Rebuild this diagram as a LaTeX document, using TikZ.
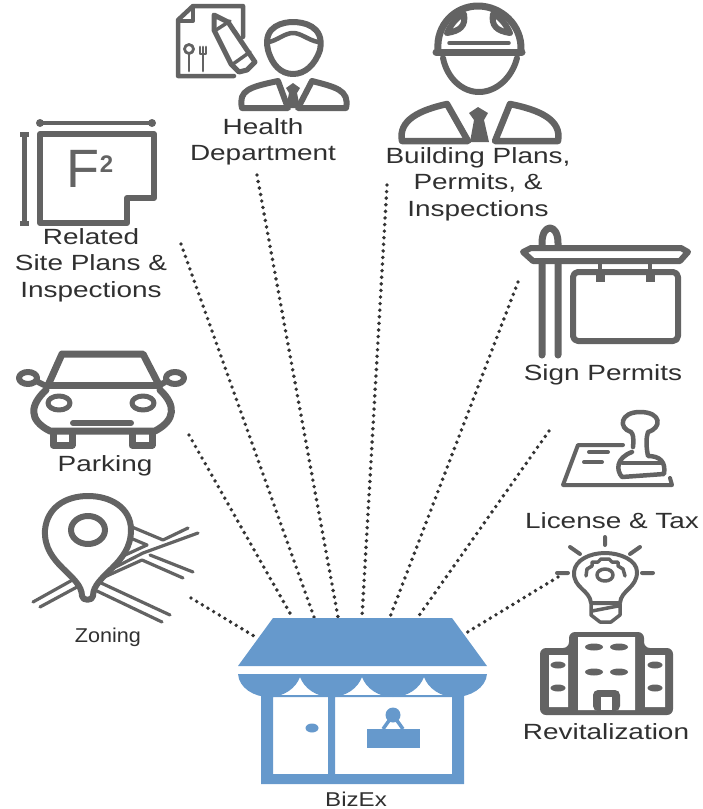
\documentclass[tikz,border=0pt]{standalone}
\usepackage{fontspec}
\setmainfont{Liberation Sans}
\definecolor{icongray}{HTML}{636363}
\definecolor{labelgray}{HTML}{303030}
\definecolor{shopblue}{HTML}{6699CC}
\tikzset{
  icon/.style = {draw=icongray, line width=6, line join=round, line cap=round},
  thinicon/.style = {icon, line width=3.2},
  label/.style = {text=labelgray, align=center, inner sep=0, transform shape, xscale=1.27,
    font=\fontsize{22}{26.5}\selectfont},
}
\begin{document}
\begin{tikzpicture}[x=1pt, y=-1pt]
\useasboundingbox (0,0) rectangle (703,809);
% dotted lines
\coordinate (zoningA) at (191,598);  \coordinate (zoningB) at (254,636);
\coordinate (parkingA) at (189,435); \coordinate (parkingB) at (291,615);
\coordinate (siteA) at (181,244);    \coordinate (siteB) at (314,617);
\coordinate (healthA) at (257,175);  \coordinate (healthB) at (338,617);
\coordinate (buildA) at (387,185);   \coordinate (buildB) at (362,617);
\coordinate (signA) at (518,282);    \coordinate (signB) at (390,617);
\coordinate (licenseA) at (549,431); \coordinate (licenseB) at (418,617);
\coordinate (revitA) at (558,577);   \coordinate (revitB) at (466,633);
\begin{scope}[every edge/.style = {draw, line width=3.9, line cap=round, dash pattern=on 0pt off 6.6pt, black!80}]
\path (zoningA) edge (zoningB);
\path (parkingA) edge (parkingB);
\path (siteA) edge (siteB);
\path (healthA) edge (healthB);
\path (buildA) edge (buildB);
\path (signA) edge (signB);
\path (licenseA) edge (licenseB);
\path (revitA) edge (revitB);
\end{scope}
% health
\draw[icon, line width=4.5] (243,37) -- (243,6) -- (193,6) -- (178,20) -- (178,76) -- (234,76);
\draw[icon, line width=4] (193,6) -- (193,21) -- (178,21);
\draw[icon, line width=2.8] (189,49) circle (4.5);
\draw[icon, line width=2.8] (189,54) -- (189,71);
\draw[icon, line width=2.8] (200,47) -- (200,54) -- (206,54) -- (206,47) (203,47) -- (203,71);
\draw[icon, line width=5] (214,15) -- (228,22) -- (255,62) -- (247,70) -- (239,72) -- (231,64) -- (214,30) -- cycle;
\draw[icon, line width=3.5] (216,30) -- (230,21) (233,64) -- (250,52);
\draw[icon] (268,50) .. controls (262,25) and (285,22) .. (293,22) .. controls (302,22) and (325,25) .. (320,50)
  .. controls (315,65) and (305,74) .. (293,74) .. controls (281,74) and (272,65) .. (268,50);
\draw[icon, line width=4.5] (269,42) .. controls (278,40) and (285,33) .. (293,33) .. controls (301,33) and (308,40) .. (318,42);
\draw[icon] (242,108) .. controls (238,90) and (250,87) .. (278,81) -- (288,108) -- cycle;
\draw[icon] (298,108) -- (312,81) .. controls (335,87) and (350,90) .. (346,108) -- cycle;
\fill[icongray] (293,83) -- (300,88) -- (297,93) -- (300,108) -- (286,108) -- (289,93) -- (286,88) -- cycle;
% building
\draw[icon, line width=7] (438,50) .. controls (436,25) and (455,6) .. (478,6) .. controls (501,6) and (522,25) .. (521,50);
\draw[icon] (447,33) .. controls (451,24) and (458,16) .. (464,14) .. controls (466,26) and (460,31) .. (447,33);
\draw[icon] (510,33) .. controls (506,24) and (499,16) .. (493,14) .. controls (491,26) and (497,31) .. (510,33);
\draw[icon, line width=7] (436,52) -- (522,52);
\draw[icon, line width=3.5] (449,43) -- (509,43);
\draw[icon] (443,58) .. controls (447,78) and (462,92) .. (479,92) .. controls (496,92) and (512,78) .. (517,58);
\draw[icon, line width=6.5] (402,141) .. controls (398,120) and (420,110) .. (447,104) -- (468,141) -- cycle;
\draw[icon, line width=6.5] (495,141) -- (510,104) .. controls (540,110) and (562,120) .. (558,141) -- cycle;
\fill[icongray] (478,107) -- (488,113) -- (484,120) -- (489,142) -- (470,142) -- (474,120) -- (469,113) -- cycle;
% site
\draw[icon] (154,198) -- (154,134) -- (40,134) -- (40,223) -- (127,223) -- (127,198) -- cycle;
\draw[icon, line width=4] (40,123) -- (152,123);
\fill[icongray] (40,123) circle (4) (152,123) circle (4);
\draw[icon, line width=5, line cap=butt] (24,134) -- (24,223) (20,134) -- (29,134) (20,223) -- (29,223);
\node[text=icongray, inner sep=0, font=\fontsize{54}{54}\selectfont] (fsquare) at (90,169) {F\raisebox{15pt}{\bfseries\fontsize{24}{24}\selectfont 2}};
% parking
\draw[icon, line width=7] (49,383) -- (62,354) -- (143,354) -- (158,383);
\draw[icon, line width=7] (46,385) -- (160,385);
\draw[icon, line width=7] (46,390) .. controls (30,405) and (28,420) .. (50,431) -- (155,431) .. controls (176,420) and (176,405) .. (160,390);
\draw[icon] (28,378) circle [x radius=9, y radius=6] (36,381) -- (44,385);
\draw[icon] (175,378) circle [x radius=9, y radius=6] (167,381) -- (160,385);
\draw[icon, line width=5] (59,403) circle [x radius=11, y radius=7];
\draw[icon, line width=5] (143,403) circle [x radius=11, y radius=7];
\draw[icon] (73,423) -- (131,423);
\draw[icon, line width=7] (53,432) -- (53,445) -- (72,445) -- (72,432);
\draw[icon, line width=7] (132,432) -- (132,445) -- (152,445) -- (152,432);
% zoning
\draw[thinicon] (33,602) -- (76,578) (40,607) -- (77,587);
\draw[thinicon] (99,582) -- (170,615) (97,591) -- (162,622);
\draw[thinicon] (100,575) -- (143,553) -- (198,533);
\draw[thinicon] (100,579) -- (142,560) -- (183,578);
\draw[thinicon] (132,527) -- (163,540) -- (188,528);
\draw[thinicon] (128,537) -- (147,545) -- (110,562);
\draw[thinicon] (150,555) -- (193,572);
\draw[icon, fill=white] (82,596) .. controls (82,575) and (43,565) .. (45,530) .. controls (47,508) and (65,496) .. (88,496)
  .. controls (111,496) and (131,508) .. (131,530) .. controls (131,565) and (93,575) .. (93,596)
  .. controls (93,601) and (82,601) .. (82,596);
\draw[icon] (88,530) circle [x radius=17, y radius=14];
% sign
\draw[icon, line width=7] (542,355) -- (542,243) .. controls (542,223) and (558,223) .. (558,243) -- (558,355);
\draw[icon, fill=white] (523,252) -- (531,248) -- (681,248) -- (688,252) -- (680,261) -- (533,261) -- cycle;
\draw[icon, rounded corners=5] (573,272) rectangle (678,341);
\draw[icon, line width=4.5, line cap=butt] (600,263) -- (600,280) (650,263) -- (650,280);
\draw[icon, line width=9, line cap=butt] (600,274) -- (600,282) (650,274) -- (650,282);
% license
\draw[icon, line width=4] (623,445) -- (578,445) -- (563,485) -- (672,485) -- (670,478);
\draw[icon, line width=4] (589,452) -- (608,452) (584,462) -- (602,462);
\draw[icon, line width=4.5] (633,447) .. controls (634,438) and (633,434) .. (631,432) .. controls (618,428) and (620,412) .. (640,412)
  .. controls (662,412) and (662,428) .. (648,432) .. controls (646,438) and (646,446) .. (648,456)
  .. controls (660,456) and (666,462) .. (664,474) -- (622,477) .. controls (616,470) and (616,458) .. (632,452);
\draw[icon, line width=3.5] (622,463) -- (663,463);
% revit
\draw[icon, line width=4] (605,537) -- (605,545) (570,547) -- (580,554) (640,547) -- (630,554) (557,573) -- (568,573) (642,573) -- (653,573);
\draw[icon, line width=4] (591,603) .. controls (590,590) and (573,588) .. (574,572) .. controls (575,560) and (590,553) .. (605,553)
  .. controls (620,553) and (637,560) .. (637,572) .. controls (637,588) and (621,590) .. (620,603) -- cycle;
\draw[icon, line width=3.5] (591,604) -- (591,615) -- (600,622) -- (611,622) -- (620,615) -- (620,604) (592,611) -- (618,606);
\draw[icon, line width=3.5] (605,575) circle [x radius=8, y radius=6];
\draw[icon, line width=3.5] (586,576) -- (587,569) -- (592,566) -- (592,562) -- (598,562) -- (601,559) -- (609,559) -- (612,562) -- (618,562) -- (618,566) -- (623,569) -- (625,576);
\fill[icongray, rounded corners=6] (540,715) -- (540,648) -- (569,648) -- (569,632) -- (644,632) -- (644,648) -- (673,648) -- (673,715) -- cycle;
\fill[white] (578,637) rectangle (635,710) (549,655) rectangle (568,707) (645,655) rectangle (665,707);
\foreach \x/\y/\w in {594/647/9, 619/647/9, 594/672/9, 619/672/9, 558/665/7.5, 558/688/7.5, 655/665/7.5, 655/688/7.5}
  \fill[icongray] (\x,\y) circle [x radius=\w, y radius=3.5];
\fill[icongray, rounded corners=5] (593,711) -- (593,690) -- (620,690) -- (620,711) -- cycle;
\fill[white] (601,697) rectangle (612,710);
% shop
\fill[shopblue] (273,618) -- (452,618) -- (487,666) -- (238,666) -- cycle;
\fill[shopblue] (238,674) -- (487,674) .. controls (486,688) and (470,697) .. (455,697) .. controls (440,697) and (428,688) .. (424,677)
  .. controls (420,688) and (408,697) .. (393,697) .. controls (378,697) and (366,688) .. (362,677)
  .. controls (358,688) and (346,697) .. (331,697) .. controls (316,697) and (304,688) .. (300,677)
  .. controls (296,688) and (284,697) .. (269,697) .. controls (254,697) and (239,688) .. (238,674) -- cycle;
\fill[shopblue, even odd rule] (261,695) rectangle (464,784) (273,697) rectangle (328,774) (335,697) rectangle (452,774);
\fill[shopblue] (312,728) circle [x radius=6.5, y radius=4.5];
\fill[shopblue] (367,729) rectangle (420,748);
\fill[shopblue] (393,715) circle (7.5);
\draw[shopblue, line width=3.5] (383,729) -- (393,715) -- (403,729);
% labels
\node[label] (health) at (263,142) {Health\\Department};
\node[label] (build) at (478,184) {Building Plans,\\Permits, \&\\Inspections};
\node[label] (site) at (91,265) {Related\\Site Plans \&\\Inspections};
\node[label] (sign) at (603,375) {Sign Permits};
\node[label] (parking) at (105,466) {Parking};
\node[label, xscale=0.85, font=\fontsize{20}{24}\selectfont] (zoning) at (108,637) {Zoning};
\node[label] (license) at (612,521) {License \& Tax};
\node[label] (revit) at (606,732) {Revitalization};
\node[label, xscale=0.95, font=\fontsize{20}{24}\selectfont] (bizex) at (356,799) {BizEx};
\end{tikzpicture}
\end{document}
